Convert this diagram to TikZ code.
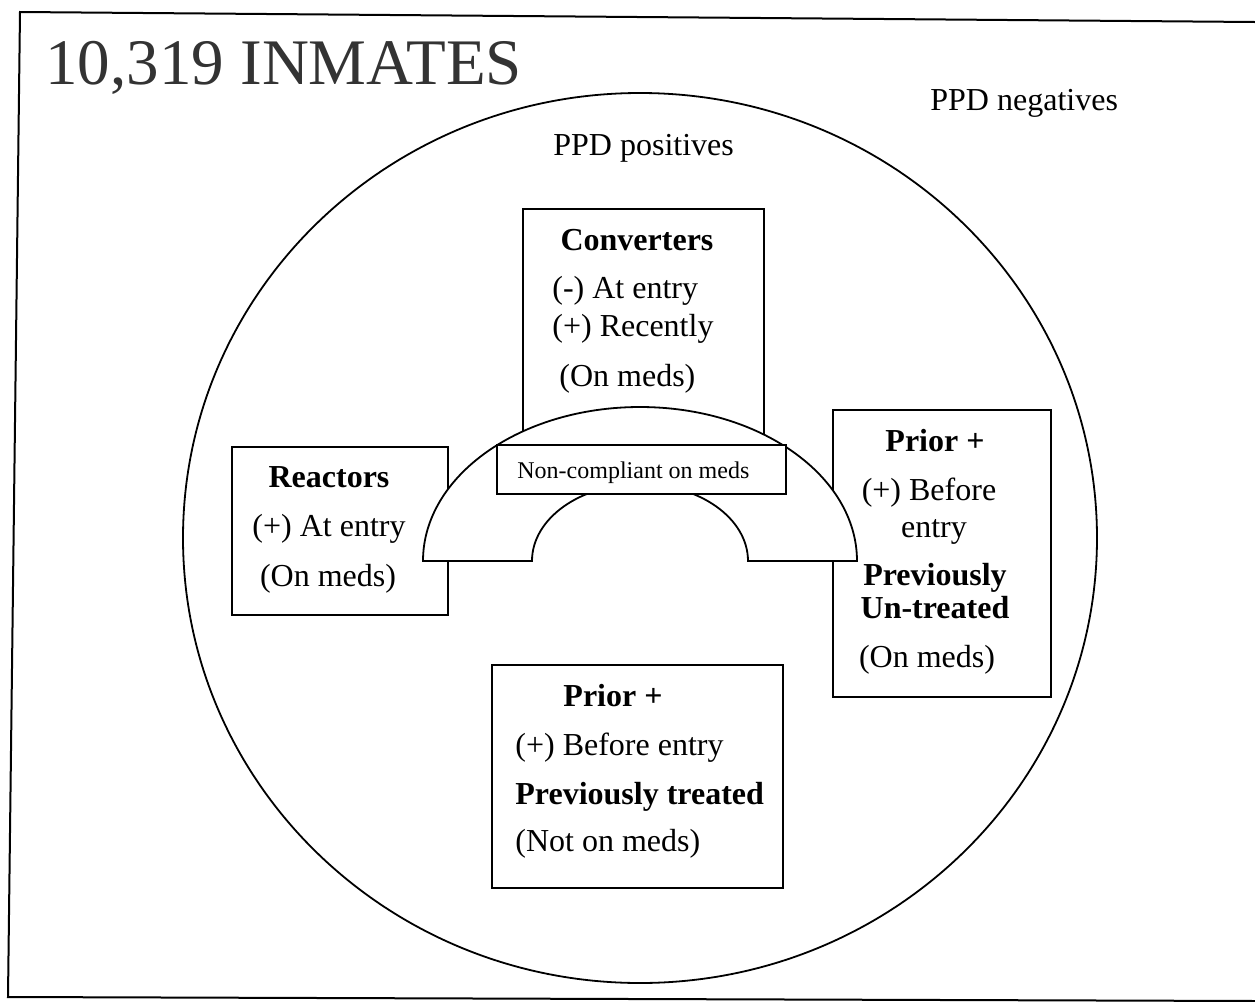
\documentclass[tikz,border=0pt]{standalone}
\usepackage{fontspec}
\setmainfont{Liberation Serif}
\usepackage{tikz}
\tikzset{
  frameline/.style={line width=1pt},
  boxline/.style={draw,line width=0.9pt},
  archline/.style={draw,line width=0.9pt,fill=white},
  txt/.style={inner sep=0pt,font=\fontsize{16}{19}\selectfont},
  btxt/.style={inner sep=0pt,font=\fontsize{16}{19}\selectfont\bfseries},
  smalltxt/.style={inner sep=0pt,font=\fontsize{12}{14}\selectfont},
}

\begin{document}
\begin{tikzpicture}[x=0.5pt,y=-0.5pt]
\useasboundingbox (0,0) rectangle (1255,1002);
\draw[frameline]
  (1255,22) -- (20,12) --
  (8,997) -- (1255,1001);
\node[anchor=base west,inner sep=0pt,text=black!80,font=\fontsize{32.5}{37}\selectfont]
  (title) at (45,84) {10,319 INMATES};
\node[txt,anchor=base west] (negs) at (930,110) {PPD negatives};
\draw[line width=0.9pt]
  (640,538) ellipse [x radius=457,y radius=445];
\node[txt,anchor=base west] (poss) at (553,155) {PPD positives};
\draw[boxline]
  (523,209) rectangle (764,480);
\node[btxt,anchor=base] (convhead) at (637,250) {Converters};
\node[txt,anchor=base west] (conventry) at (552,298) {(-) At entry};
\node[txt,anchor=base west] (convrecent) at (552,336) {(+) Recently};
\node[txt,anchor=base west] (convmeds) at (559,386) {(On meds)};
\draw[boxline]
  (232,447) rectangle (448,615);
\node[btxt,anchor=base] (reachead) at (329,487) {Reactors};
\node[txt,anchor=base] (reacentry) at (329,536) {(+) At entry};
\node[txt,anchor=base] (reacmeds) at (328,586) {(On meds)};
\draw[boxline]
  (833,410) rectangle (1051,697);
\node[btxt,anchor=base] (untrhead) at (935,451) {Prior +};
\node[txt,anchor=base] (untrbefore) at (929,500) {(+) Before};
\node[txt,anchor=base] (untrentry) at (934,537) {entry};
\node[btxt,anchor=base] (untrprev) at (935,585) {Previously};
\node[btxt,anchor=base] (untrstate) at (935,618) {Un-treated};
\node[txt,anchor=base] (untrmeds) at (927,667) {(On meds)};
\draw[boxline]
  (492,665) rectangle (783,888);
\node[btxt,anchor=base] (trhead) at (613,706) {Prior +};
\node[txt,anchor=base west] (trbefore) at (515,755) {(+) Before entry};
\node[btxt,anchor=base west] (trprev) at (515,804) {Previously treated};
\node[txt,anchor=base west] (trmeds) at (515,851) {(Not on meds)};
\draw[archline]
  (423,561) arc[start angle=180,end angle=360,x radius=217,y radius=154] --
  (748,561) arc[start angle=0,end angle=-180,x radius=108,y radius=77] --
  cycle;
\draw[archline]
  (497,445) rectangle (786,494);
\node[smalltxt,anchor=base west] (noncomp) at (517,478) {Non-compliant on meds};
\end{tikzpicture}
\end{document}
